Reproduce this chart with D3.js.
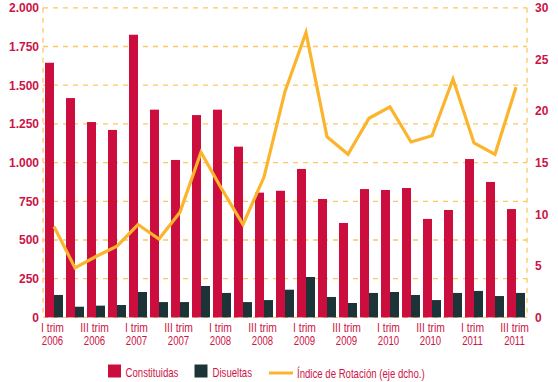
<!DOCTYPE html>
<html>
<head>
<meta charset="utf-8">
<script src="https://cdn.jsdelivr.net/npm/d3@7"></script>
<style>
  html, body { margin: 0; padding: 0; background: #fff; }
  svg { display: block; }
</style>
</head>
<body>
<svg id="chart" width="558" height="382"></svg>
<script>
// Quarterly companies formed / dissolved and rotation index
const quarters = [
  "I trim 2006", "II trim 2006", "III trim 2006", "IV trim 2006",
  "I trim 2007", "II trim 2007", "III trim 2007", "IV trim 2007",
  "I trim 2008", "II trim 2008", "III trim 2008", "IV trim 2008",
  "I trim 2009", "II trim 2009", "III trim 2009", "IV trim 2009",
  "I trim 2010", "II trim 2010", "III trim 2010", "IV trim 2010",
  "I trim 2011", "II trim 2011", "III trim 2011"
];
const constituidas = [1645, 1417, 1262, 1211, 1826, 1342, 1017, 1307, 1342, 1103, 806, 818,
  959, 765, 610, 829, 823, 836, 636, 694, 1023, 875, 700];
const disueltas = [145, 69, 76, 80, 164, 99, 99, 203, 158, 99, 112, 179,
  261, 132, 93, 158, 164, 145, 112, 158, 171, 138, 158];
const rotacion = [8.8, 4.8, 5.9, 6.9, 9.0, 7.6, 10.2, 16.0, 12.4, 9.0, 13.6, 21.9,
  27.6, 17.5, 15.8, 19.3, 20.4, 17.0, 17.6, 23.1, 16.9, 15.8, 22.3];
const leftTicks = [0, 250, 500, 750, 1000, 1250, 1500, 1750, 2000];
const rightTicks = [0, 5, 10, 15, 20, 25, 30];
const seriesNames = ["Constituidas", "Disueltas"];
const lineName = "Índice de Rotación (eje dcho.)";

const RED = "#cc0e3f", DARK = "#1c3437", GOLD = "#fbb42c", GRID = "#fcc862";
const TXT = "#cc1446";
const SANS = "'Liberation Sans', Arial, sans-serif";

const svg = d3.select("#chart");
const L = 43, R = 527, T = 7.8, B = 317.4;

const x0 = d3.scaleBand().domain(quarters).range([L, R]).paddingInner(0.143).paddingOuter(0.095);
const x1 = d3.scaleBand().domain(seriesNames).range([0, x0.bandwidth()]);
const yL = d3.scaleLinear().domain([0, 2000]).range([B, T]);
const yR = d3.scaleLinear().domain([0, 30]).range([B, T]);

const es = d3.formatLocale({ decimal: ",", thousands: ".", grouping: [3], currency: ["", "€"] });
const fmt = es.format(",");

// condensed text: horizontally squeezed Liberation Sans
function narrowText(sel, x, y, str, sx, size, anchor) {
  return sel.append("text")
    .attr("transform", `translate(${x},${y}) scale(${sx},1)`)
    .attr("text-anchor", anchor || "start")
    .attr("font-family", SANS).attr("font-size", size).attr("fill", TXT)
    .text(str);
}

// dashed grid and frame
const grid = svg.append("g");
grid.selectAll("line.h").data(leftTicks).join("line")
  .attr("x1", L).attr("x2", R)
  .attr("y1", d => yL(d)).attr("y2", d => yL(d))
  .attr("stroke", GRID).attr("stroke-width", 1.3).attr("stroke-dasharray", "5,5");
grid.selectAll("line.v").data([L, R]).join("line")
  .attr("x1", d => d).attr("x2", d => d)
  .attr("y1", T).attr("y2", B)
  .attr("stroke", GRID).attr("stroke-width", 1.3).attr("stroke-dasharray", "5,5");

// bars
const data = quarters.map((q, i) => ({ q, vals: [constituidas[i], disueltas[i]] }));
const groups = svg.append("g").selectAll("g").data(data).join("g")
  .attr("transform", d => `translate(${x0(d.q)},0)`);
groups.selectAll("rect").data(d => d.vals.map((v, j) => ({ k: seriesNames[j], v }))).join("rect")
  .attr("x", d => x1(d.k))
  .attr("width", x1.bandwidth())
  .attr("y", d => yL(d.v))
  .attr("height", d => yL(0) - yL(d.v))
  .attr("fill", d => d.k === "Constituidas" ? RED : DARK);

// rotation index line
const line = d3.line()
  .x((d, i) => x0(quarters[i]) + x0.bandwidth() / 2)
  .y(d => yR(d));
svg.append("path").datum(rotacion)
  .attr("d", line)
  .attr("fill", "none").attr("stroke", GOLD).attr("stroke-width", 3.2)
  .attr("stroke-linejoin", "miter");

// left axis
const axL = svg.append("g").attr("transform", `translate(${L - 4},0)`)
  .call(d3.axisLeft(yL).tickValues(leftTicks).tickFormat(fmt).tickSize(0).tickPadding(0));
axL.select(".domain").remove();
axL.selectAll("text").attr("fill", TXT).attr("font-family", SANS)
  .attr("font-weight", "bold").attr("font-size", 12);

// right axis
const axR = svg.append("g").attr("transform", `translate(${R + 8},0)`)
  .call(d3.axisRight(yR).tickValues(rightTicks).tickSize(0).tickPadding(0));
axR.select(".domain").remove();
axR.selectAll("text").attr("fill", TXT).attr("font-family", SANS)
  .attr("font-weight", "bold").attr("font-size", 12);

// bottom labels, every other quarter on two lines
const xg = svg.append("g");
quarters.forEach((q, i) => {
  if (i % 2 !== 0) return;
  const parts = q.split(" ");
  const cx = x0(q) + x0.bandwidth() / 2 - 1.5;
  narrowText(xg, cx, 331.5, parts[0] + " " + parts[1], 0.86, 12, "middle");
  narrowText(xg, cx, 345, parts[2], 0.8, 12, "middle");
});

// legend
const lg = svg.append("g");
lg.append("rect").attr("x", 108).attr("y", 364.5).attr("width", 13).attr("height", 13).attr("fill", RED);
narrowText(lg, 125.5, 376.5, seriesNames[0], 0.74, 13);
lg.append("rect").attr("x", 194.5).attr("y", 364.5).attr("width", 13).attr("height", 13).attr("fill", DARK);
narrowText(lg, 212.5, 376.5, seriesNames[1], 0.74, 13);
lg.append("line").attr("x1", 269).attr("x2", 293).attr("y1", 373).attr("y2", 373)
  .attr("stroke", GOLD).attr("stroke-width", 3);
narrowText(lg, 297, 377.5, lineName, 0.74, 13);
</script>
</body>
</html>
